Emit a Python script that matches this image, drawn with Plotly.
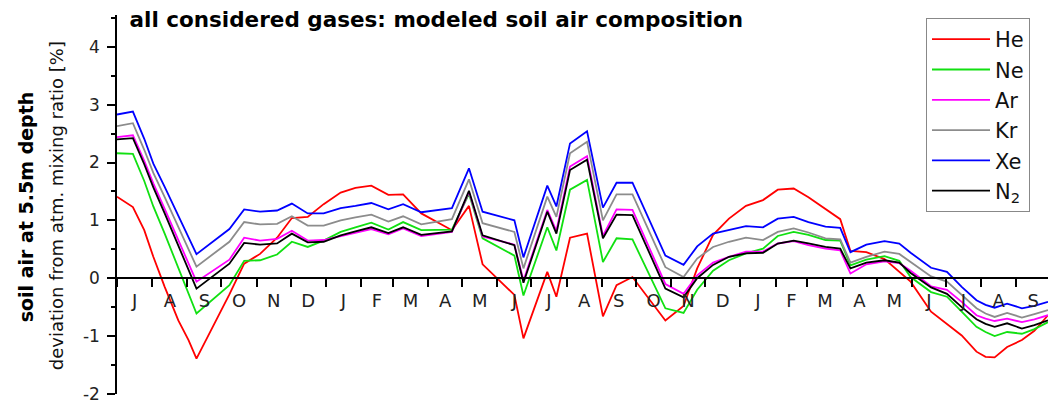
import pandas as pd
import plotly.graph_objects as go

# Model output dates (shared by all gases)
dates = [
    "2008-07-01", "2008-07-15", "2008-07-25", "2008-08-02", "2008-08-12", "2008-08-24",
    "2008-09-02", "2008-09-09", "2008-10-08", "2008-10-21", "2008-11-04", "2008-11-19",
    "2008-12-02", "2008-12-16", "2008-12-30", "2009-01-14", "2009-01-27", "2009-02-10",
    "2009-02-25", "2009-03-10", "2009-03-26", "2009-04-22", "2009-05-07", "2009-05-19",
    "2009-06-16", "2009-06-24", "2009-07-15", "2009-07-23", "2009-08-04", "2009-08-19",
    "2009-09-02", "2009-09-14", "2009-09-28", "2009-10-27", "2009-11-12", "2009-11-24",
    "2009-12-08", "2009-12-22", "2010-01-06", "2010-01-21", "2010-02-03", "2010-02-17",
    "2010-03-02", "2010-03-17", "2010-03-30", "2010-04-08", "2010-04-22", "2010-05-08",
    "2010-05-21", "2010-05-31", "2010-06-18", "2010-07-02", "2010-07-15", "2010-07-28",
    "2010-08-05", "2010-08-13", "2010-08-24", "2010-09-06", "2010-09-17", "2010-09-29",
]

# Deviation from atmospheric mixing ratio [%] at 5.5 m depth
he = [1.41, 1.23, 0.83, 0.37, -0.15, -0.73, -1.07, -1.39, -0.28, 0.25, 0.42, 0.70,
      1.04, 1.06, 1.28, 1.48, 1.56, 1.60, 1.44, 1.45, 1.12, 0.83, 1.25, 0.24,
      -0.29, -1.04, 0.11, -0.32, 0.70, 0.77, -0.66, -0.12, 0.02, -0.73, -0.48, 0.17,
      0.75, 1.03, 1.25, 1.35, 1.53, 1.55, 1.40, 1.20, 1.02, 0.47, 0.45, 0.33,
      0.10, -0.06, -0.58, -0.80, -0.99, -1.27, -1.36, -1.37, -1.19, -1.07, -0.91, -0.64]
ne = [2.16, 2.15, 1.68, 1.24, 0.77, 0.17, -0.27, -0.61, -0.12, 0.30, 0.31, 0.41,
      0.63, 0.54, 0.65, 0.80, 0.88, 0.96, 0.84, 0.97, 0.83, 0.84, 1.46, 0.69,
      0.39, -0.30, 0.88, 0.48, 1.53, 1.70, 0.28, 0.69, 0.67, -0.52, -0.60, -0.20,
      0.13, 0.31, 0.43, 0.51, 0.73, 0.80, 0.75, 0.66, 0.65, 0.22, 0.32, 0.38,
      0.30, 0.02, -0.24, -0.32, -0.58, -0.84, -0.93, -1.00, -0.93, -0.96, -0.88, -0.76]
ar = [2.44, 2.47, 2.03, 1.64, 1.20, 0.65, 0.26, -0.06, 0.32, 0.70, 0.65, 0.68,
      0.82, 0.65, 0.66, 0.73, 0.79, 0.85, 0.76, 0.86, 0.73, 0.80, 1.49, 0.72,
      0.58, -0.04, 1.18, 0.82, 1.93, 2.11, 0.73, 1.19, 1.18, -0.10, -0.27, 0.05,
      0.27, 0.37, 0.46, 0.46, 0.60, 0.64, 0.57, 0.51, 0.48, 0.08, 0.24, 0.29,
      0.26, 0.13, -0.14, -0.20, -0.41, -0.64, -0.70, -0.74, -0.70, -0.76, -0.71, -0.64]
kr = [2.63, 2.68, 2.22, 1.82, 1.40, 0.88, 0.50, 0.20, 0.63, 0.97, 0.93, 0.94,
      1.07, 0.91, 0.91, 1.00, 1.05, 1.10, 0.98, 1.07, 0.93, 1.02, 1.71, 0.95,
      0.80, 0.17, 1.41, 1.06, 2.16, 2.36, 1.00, 1.45, 1.45, 0.19, 0.02, 0.34,
      0.54, 0.63, 0.70, 0.66, 0.80, 0.86, 0.79, 0.69, 0.67, 0.27, 0.37, 0.46,
      0.42, 0.28, 0.03, -0.06, -0.29, -0.52, -0.61, -0.67, -0.60, -0.68, -0.62, -0.55]
xe = [2.83, 2.88, 2.41, 1.98, 1.58, 1.07, 0.71, 0.415, 0.85, 1.19, 1.15, 1.17,
      1.29, 1.12, 1.12, 1.21, 1.25, 1.30, 1.19, 1.28, 1.14, 1.21, 1.90, 1.15,
      1.00, 0.36, 1.60, 1.24, 2.33, 2.54, 1.22, 1.65, 1.65, 0.39, 0.23, 0.55,
      0.77, 0.83, 0.90, 0.88, 1.03, 1.06, 0.97, 0.89, 0.87, 0.45, 0.58, 0.64,
      0.60, 0.44, 0.18, 0.11, -0.15, -0.38, -0.46, -0.51, -0.44, -0.52, -0.48, -0.41]
n2 = [2.40, 2.42, 1.97, 1.57, 1.12, 0.55, 0.15, -0.18, 0.25, 0.61, 0.58, 0.60,
      0.77, 0.62, 0.63, 0.74, 0.81, 0.88, 0.78, 0.88, 0.75, 0.81, 1.51, 0.74,
      0.57, -0.08, 1.15, 0.77, 1.87, 2.05, 0.69, 1.10, 1.09, -0.18, -0.33, 0.00,
      0.23, 0.37, 0.43, 0.44, 0.60, 0.65, 0.60, 0.54, 0.51, 0.17, 0.27, 0.31,
      0.27, 0.09, -0.16, -0.27, -0.50, -0.71, -0.79, -0.84, -0.78, -0.87, -0.81, -0.73]

gas_names = ["He", "Ne", "Ar", "Kr", "Xe", "N<sub>2</sub>"]
gas_colors = ["#ff0000", "#11e011", "#ff00ff", "#8c8c8c", "#0000ff", "#000000"]

month_letters = ["J", "A", "S", "O", "N", "D", "J", "F", "M", "A", "M", "J",
                 "J", "A", "S", "O", "N", "D", "J", "F", "M", "A", "M", "J",
                 "J", "A", "S"]

y_ticks = [-2, -1, 0, 1, 2, 3, 4]
y_tick_labels = ["-2", "-1", "0", "1", "2", "3", "4"]

FONT = "DejaVu Sans"

# Month labels sit in the middle of each month, ticks mark the month boundaries
month_starts = pd.date_range("2008-07-01", periods=len(month_letters) + 1, freq="MS")
month_mids = [a + (b - a) / 2 for a, b in zip(month_starts[:-1], month_starts[1:])]

x = pd.to_datetime(dates)
fig = go.Figure()
for name, color, vals in zip(gas_names, gas_colors, [he, ne, ar, kr, xe, n2]):
    fig.add_trace(go.Scatter(x=x, y=vals, mode="lines", name=name,
                             line=dict(color=color, width=1.8)))

y_min, y_max = -2.002, 4.55

fig.update_layout(
    width=1048, height=403,
    margin=dict(l=117, r=0, t=15, b=9),
    paper_bgcolor="white", plot_bgcolor="white",
    font=dict(family=FONT, color="#111111"),
    showlegend=True,
    title=dict(
        text="all considered gases: modeled soil air composition",
        font=dict(family=FONT, size=21.5, color="black", weight="bold"),
        xref="container", x=129.5 / 1048, xanchor="left",
        yref="container", y=1 - 19.5 / 403, yanchor="middle",
    ),
    legend=dict(
        x=(926 - 117) / 931, y=0.992, xanchor="left", yanchor="top",
        bgcolor="white", bordercolor="#888888", borderwidth=1,
        font=dict(family=FONT, size=21, color="#111111"),
        itemwidth=58,
    ),
    xaxis=dict(
        type="date",
        range=["2008-07-01", "2010-09-29"],
        anchor="free", position=(0 - y_min) / (y_max - y_min),
        showline=True, linecolor="black", linewidth=1.5,
        showgrid=False, zeroline=False,
        tickmode="array", tickvals=month_mids, ticktext=month_letters,
        ticks="outside", ticklen=6, tickcolor="rgba(0,0,0,0)",
        tickfont=dict(family=FONT, size=18, color="#222222"),
        ticklabeloverflow="allow",
        minor=dict(tickmode="linear", tick0="2008-07-01", dtick="M1",
                   ticks="outside", ticklen=8, tickwidth=1.5, tickcolor="black",
                   showgrid=False),
    ),
    yaxis=dict(
        range=[y_min, y_max],
        tickmode="array", tickvals=y_ticks, ticktext=y_tick_labels,
        showline=True, linecolor="black", linewidth=1.5,
        showgrid=False, zeroline=False,
        ticks="outside", ticklen=8, tickwidth=1.5, tickcolor="black",
        tickfont=dict(family=FONT, size=17, color="#222222"),
        ticklabelstandoff=4, ticklabeloverflow="allow",
        minor=dict(tickmode="linear", tick0=0, dtick=0.5, ticks="outside",
                   ticklen=4, tickwidth=1.5, tickcolor="black", showgrid=False),
    ),
)

fig.add_annotation(
    text="<b>soil air at 5.5m depth</b>", textangle=-90,
    xref="paper", yref="paper", x=(25.5 - 117) / 931, y=0.494,
    xanchor="center", yanchor="middle", showarrow=False,
    font=dict(family=FONT, size=19, color="black"),
)
fig.add_annotation(
    text="deviation from atm. mixing ratio [%]", textangle=-90,
    xref="paper", yref="paper", x=(56 - 117) / 931, y=0.4955,
    xanchor="center", yanchor="middle", showarrow=False,
    font=dict(family=FONT, size=18, color="#111111"),
)

fig.write_html("out.html")
